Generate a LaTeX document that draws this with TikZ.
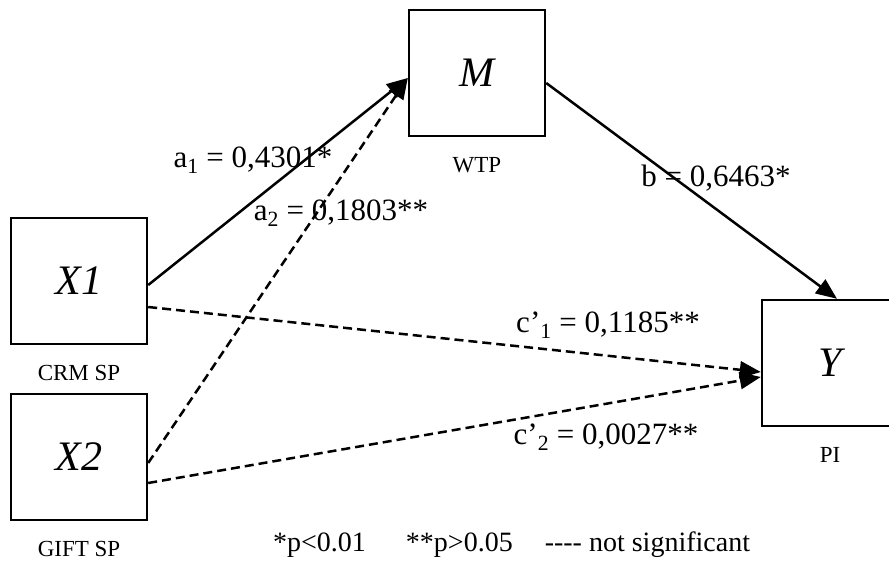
\documentclass[tikz,border=0pt]{standalone}
\usepackage{fontspec}
\setmainfont{Liberation Serif}
\usetikzlibrary{arrows.meta,positioning}
\tikzset{
  varbox/.style={draw, line width=2.4pt, minimum width=136pt, minimum height=126pt,
    inner sep=0pt, font=\fontsize{42}{46}\selectfont\itshape},
  varlab/.style={inner sep=0pt, font=\fontsize{23}{26}\selectfont},
  coeflab/.style={inner sep=0pt, font=\fontsize{31}{34}\selectfont},
  pathln/.style={-{Triangle[length=21pt,width=17pt]}, line width=2.5pt},
  nsln/.style={pathln, dash pattern=on 9pt off 5pt},
}
\begin{document}
\begin{tikzpicture}[x=1pt, y=-1pt]
    \useasboundingbox (0,0) rectangle (889,569);
    \clip (0,0) rectangle (889,569);
    \node[varbox] (X1) at (79,281) {X1};
    \node[varbox] (X2) at (79,457) {X2};
    \node[varbox] (M) at (477,73) {M};
    \node[varbox] (Y) at (830,363) {Y};
    \foreach \n/\lab in {X1/CRM SP, X2/GIFT SP, M/WTP, Y/PI} {
      \node[varlab, below=20pt of \n] (\n-lab) {\lab};
    }
    \draw[pathln] ([yshift=-4pt]X1.east) -- ([yshift=-5pt]M.west);
    \draw[nsln] ([yshift=-6pt]X2.east) -- ([yshift=-5pt]M.west);
    \draw[pathln] ([yshift=-10pt]M.east) -- ([xshift=7pt]Y.north);
    \draw[nsln] ([yshift=-26pt]X1.east) -- ([yshift=-9pt]Y.west);
    \draw[nsln] ([yshift=-26pt]X2.east) -- ([yshift=-14pt]Y.west);
    \node[coeflab] (a1) at (253,160) {a\textsubscript{1} = 0,4301*};
    \node[coeflab] (a2) at (341,213) {a\textsubscript{2} = 0,1803**};
    \node[coeflab] (b) at (716,178) {b = 0,6463*};
    \node[coeflab] (c1) at (608,325) {c’\textsubscript{1} = 0,1185**};
    \node[coeflab] (c2) at (606,437) {c’\textsubscript{2} = 0,0027**};
    \node[inner sep=0pt, anchor=west, font=\fontsize{28}{32}\selectfont] (note) at (273,545)
      {*p<0.01\hspace{40pt}**p>0.05\hspace{32pt}\mbox{-}\mbox{-}\mbox{-}\mbox{-} not significant};
\end{tikzpicture}
\end{document}
